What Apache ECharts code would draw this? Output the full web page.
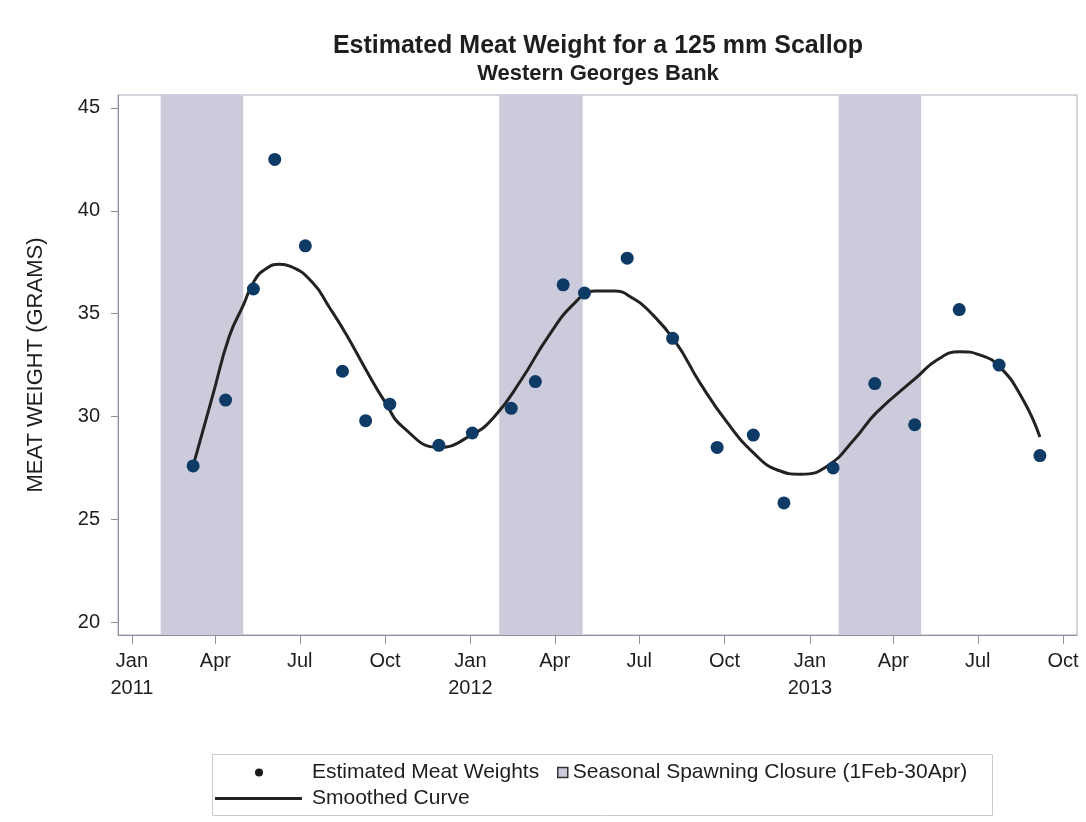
<!DOCTYPE html>
<html>
<head>
<meta charset="utf-8">
<title>Estimated Meat Weight for a 125 mm Scallop</title>
<script src="https://cdn.jsdelivr.net/npm/echarts@6/dist/echarts.min.js"></script>
<style>
  html, body { margin: 0; padding: 0; background: #ffffff; }
  #chart { width: 1086px; height: 822px; }
</style>
</head>
<body>
<div id="chart"></div>
<script>
// Survey dates and estimated meat weights (grams)
const sampleDates = [
  '2011-03-08', '2011-04-12', '2011-05-12', '2011-06-04', '2011-07-07',
  '2011-08-16', '2011-09-10', '2011-10-06', '2011-11-28', '2012-01-03',
  '2012-02-14', '2012-03-11', '2012-04-10', '2012-05-03', '2012-06-18',
  '2012-08-06', '2012-09-23', '2012-11-01', '2012-12-04', '2013-01-26',
  '2013-03-12', '2013-04-24', '2013-06-11', '2013-07-24', '2013-09-06'
];
const sampleWeights = [
  27.6, 30.8, 36.2, 42.5, 38.3,
  32.2, 29.8, 30.6, 28.6, 29.2,
  30.4, 31.7, 36.4, 36.0, 37.7,
  33.8, 28.5, 29.1, 25.8, 27.5,
  31.6, 29.6, 35.2, 32.5, 28.1
];

// Smoothed curve
const curveDates = [
  '2011-03-08', '2011-03-29', '2011-04-16', '2011-05-01', '2011-05-13',
  '2011-05-26', '2011-06-09', '2011-06-21', '2011-07-15', '2011-08-02',
  '2011-08-20', '2011-09-10', '2011-10-01', '2011-10-20',
  '2011-11-28', '2012-01-02', '2012-01-27', '2012-02-25', '2012-03-25',
  '2012-04-22', '2012-05-14', '2012-06-04', '2012-06-26', '2012-07-10',
  '2012-08-08', '2012-09-05', '2012-10-04', '2012-11-02', '2012-11-27',
  '2012-12-22', '2013-01-20', '2013-02-18', '2013-03-14', '2013-04-26',
  '2013-05-18', '2013-06-12', '2013-07-03', '2013-07-25', '2013-08-19',
  '2013-09-06'
];
const curveWeights = [
  27.6, 31.0, 33.9, 35.4, 36.6,
  37.2, 37.4, 37.3, 36.5, 35.3,
  34.0, 32.3, 30.7, 29.5,
  28.5, 29.1, 30.0, 31.8, 33.9,
  35.5, 36.1, 36.1, 35.7, 35.2,
  33.7, 31.6, 29.7, 28.2, 27.4,
  27.2, 27.6, 28.9, 30.2, 31.9,
  32.75, 33.15, 33.0, 32.4, 30.8,
  29.0
];

// Seasonal spawning closures (1 Feb - 30 Apr)
const closureStarts = ['2011-02-01', '2012-02-01', '2013-02-01'];
const closureEnds = ['2011-05-01', '2012-05-01', '2013-05-01'];

// Axis tick values
const yTicks = [20, 25, 30, 35, 40, 45];
const monthNames = ['Jan', 'Feb', 'Mar', 'Apr', 'May', 'Jun', 'Jul', 'Aug', 'Sep', 'Oct', 'Nov', 'Dec'];
const xTickDates = [
  '2011-01-01', '2011-04-01', '2011-07-01', '2011-10-01',
  '2012-01-01', '2012-04-01', '2012-07-01', '2012-10-01',
  '2013-01-01', '2013-04-01', '2013-07-01', '2013-10-01'
];

// Dates are placed on a numeric axis as millisecond timestamps (UTC)
const toTime = s => {
  const [y, m, d] = s.split('-').map(Number);
  return Date.UTC(y, m - 1, d);
};
const xTicks = xTickDates.map(toTime);

const NAME_POINTS = 'Estimated Meat Weights';
const NAME_CLOSURE = 'Seasonal Spawning Closure (1Feb-30Apr)';
const NAME_CURVE = 'Smoothed Curve';

const font = 'Liberation Sans, Arial, sans-serif';
const textColor = '#1e1e1e';
const axisGray = '#8c90a0';
const bandColor = '#cbcbdb';
const pointColor = '#0e3a66';
const curveColor = '#222222';

const chart = echarts.init(document.getElementById('chart'), null, { renderer: 'canvas' });

chart.setOption({
  backgroundColor: '#ffffff',
  animation: false,
  textStyle: { fontFamily: font },
  title: {
    text: 'Estimated Meat Weight for a 125 mm Scallop',
    subtext: 'Western Georges Bank',
    left: 598,
    textAlign: 'center',
    top: 34,
    padding: 0,
    itemGap: 4,
    textStyle: { fontFamily: font, fontSize: 25, fontWeight: 'bold', color: textColor },
    subtextStyle: { fontFamily: font, fontSize: 22, fontWeight: 'bold', color: textColor }
  },
  grid: {
    left: 118, top: 95, width: 959, height: 540,
    show: true, borderColor: '#a9adbd', borderWidth: 1, backgroundColor: 'transparent'
  },
  xAxis: {
    type: 'value',
    min: toTime('2010-12-17'),
    max: toTime('2013-10-16'),
    axisLine: { show: true, lineStyle: { color: axisGray, width: 1 } },
    axisTick: { show: true, length: 9, lineStyle: { color: axisGray }, customValues: xTicks },
    splitLine: { show: false },
    axisLabel: {
      customValues: xTicks,
      margin: 13,
      fontSize: 20,
      lineHeight: 27,
      color: textColor,
      fontFamily: font,
      formatter: v => {
        const d = new Date(v);
        const m = d.getUTCMonth();
        return m === 0 ? monthNames[m] + '\n' + d.getUTCFullYear() : monthNames[m];
      }
    }
  },
  yAxis: {
    type: 'value',
    min: 19.38,
    max: 45.63,
    name: 'MEAT WEIGHT (GRAMS)',
    nameLocation: 'middle',
    nameGap: 71,
    nameTextStyle: { fontSize: 22, color: textColor, fontFamily: font },
    axisLine: { show: true, lineStyle: { color: axisGray, width: 1 } },
    axisTick: { show: true, length: 7, lineStyle: { color: axisGray }, customValues: yTicks },
    splitLine: { show: false },
    axisLabel: { customValues: yTicks, margin: 18, fontSize: 20, color: textColor, fontFamily: font }
  },
  legend: [
    {
      data: [{ name: NAME_POINTS, icon: 'circle', itemStyle: { color: '#1a1a1a' } }],
      left: 255, top: 762, padding: 0,
      itemWidth: 8, itemHeight: 8,
      textStyle: { fontSize: 21, color: textColor, fontFamily: font, padding: [0, 0, 0, 44] },
      selectedMode: false
    },
    {
      data: [{
        name: NAME_CLOSURE,
        icon: 'rect',
        itemStyle: { color: bandColor, borderColor: '#333333', borderWidth: 1.5 }
      }],
      left: 557, top: 762, padding: 0,
      itemWidth: 10, itemHeight: 10,
      textStyle: { fontSize: 21, color: textColor, fontFamily: font },
      selectedMode: false
    },
    {
      data: [{ name: NAME_CURVE, icon: 'rect', itemStyle: { color: curveColor } }],
      left: 215, top: 788, padding: 0,
      itemWidth: 87, itemHeight: 3,
      textStyle: { fontSize: 21, color: textColor, fontFamily: font, padding: [0, 0, 0, 5] },
      selectedMode: false
    }
  ],
  graphic: [{
    type: 'rect',
    left: 210, top: 752,
    shape: { width: 780, height: 61 },
    style: { fill: 'none', stroke: '#c9cad3', lineWidth: 1 },
    silent: true
  }],
  series: [
    {
      name: NAME_CLOSURE,
      type: 'line',
      data: [],
      z: 0,
      silent: true,
      itemStyle: { color: bandColor },
      markArea: {
        silent: true,
        itemStyle: { color: bandColor },
        data: closureStarts.map((s, i) => [{ xAxis: toTime(s) }, { xAxis: toTime(closureEnds[i]) }])
      }
    },
    {
      name: NAME_CURVE,
      type: 'line',
      smooth: true,
      showSymbol: false,
      symbol: 'none',
      z: 3,
      lineStyle: { color: curveColor, width: 3 },
      itemStyle: { color: curveColor },
      data: curveDates.map((d, i) => [toTime(d), curveWeights[i]])
    },
    {
      name: NAME_POINTS,
      type: 'scatter',
      symbol: 'circle',
      symbolSize: 13,
      z: 4,
      itemStyle: { color: pointColor, opacity: 1 },
      data: sampleDates.map((d, i) => [toTime(d), sampleWeights[i]])
    }
  ]
});
</script>
</body>
</html>
